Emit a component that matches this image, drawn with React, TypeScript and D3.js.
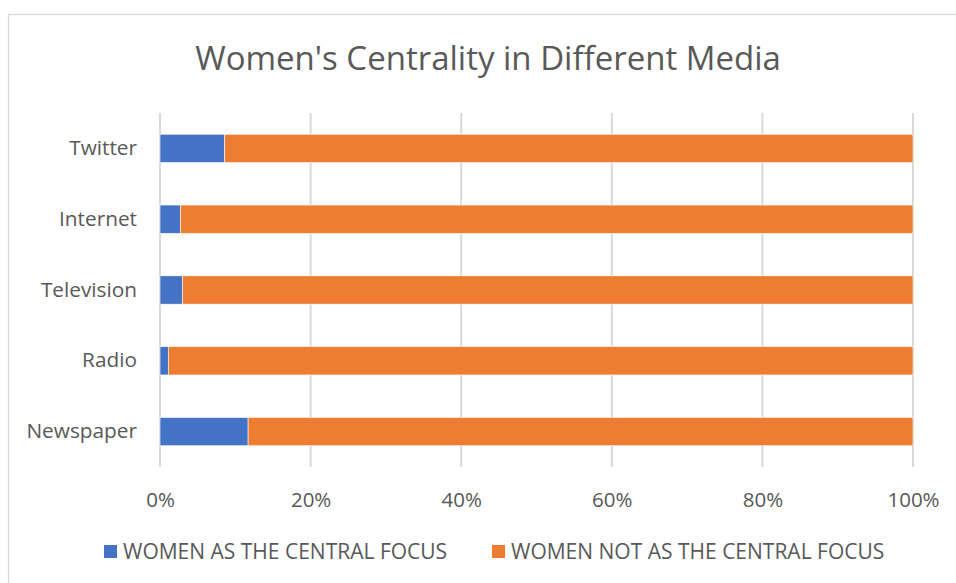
import React, { useEffect, useRef } from 'react';
import * as d3 from 'd3';

const categories = ['Newspaper', 'Radio', 'Television', 'Internet', 'Twitter'];
const centralFocus = [0.117, 0.011, 0.030, 0.027, 0.086];
const notCentralFocus = [0.883, 0.989, 0.970, 0.973, 0.914];
const seriesNames = ['WOMEN AS THE CENTRAL FOCUS', 'WOMEN NOT AS THE CENTRAL FOCUS'];
const seriesColors = ['#4472C4', '#ED7D31'];
const tickValues = [0, 0.2, 0.4, 0.6, 0.8, 1];

const App = () => {
    const svgRef = useRef<SVGSVGElement>(null);

    useEffect(() => {
        const svg = d3.select(svgRef.current);
        svg.selectAll('*').remove();

        const width = 956;
        const height = 583;
        const margin = { top: 113, right: 43, bottom: 116, left: 160 };
        const font = "'Open Sans', sans-serif";
        const textColor = '#595959';

        // chart frame
        svg.append('rect')
            .attr('x', 8.5)
            .attr('y', 14.5)
            .attr('width', 1000)
            .attr('height', 1000)
            .attr('fill', '#fff')
            .attr('stroke', '#d9d9d9')
            .attr('stroke-width', 1.2);

        svg.append('text')
            .attr('x', 488)
            .attr('y', 70)
            .attr('text-anchor', 'middle')
            .attr('font-family', font)
            .attr('font-size', 33)
            .attr('fill', textColor)
            .text("Women's Centrality in Different Media");

        const rows = categories.map((c, i) => ({
            category: c,
            central: centralFocus[i],
            notCentral: notCentralFocus[i],
        }));

        const xScale = d3.scaleLinear()
            .domain([0, 1])
            .range([margin.left, width - margin.right]);

        const yScale = d3.scaleBand()
            .domain(categories.slice().reverse())
            .range([margin.top, height - margin.bottom])
            .paddingInner(0.6)
            .paddingOuter(0.3);

        // gridlines
        svg.append('g')
            .selectAll('line')
            .data(tickValues)
            .enter()
            .append('line')
            .attr('x1', d => xScale(d))
            .attr('x2', d => xScale(d))
            .attr('y1', margin.top)
            .attr('y2', height - margin.bottom)
            .attr('stroke', '#d9d9d9')
            .attr('stroke-width', 2);

        const stack = d3.stack<any>().keys(['central', 'notCentral']);
        const layers = stack(rows);

        svg.append('g')
            .selectAll('g')
            .data(layers)
            .enter()
            .append('g')
            .attr('fill', (d, i) => seriesColors[i])
            .selectAll('rect')
            .data(d => d)
            .enter()
            .append('rect')
            .attr('x', d => xScale(d[0]))
            .attr('y', d => yScale(d.data.category)!)
            .attr('width', d => xScale(d[1]) - xScale(d[0]))
            .attr('height', yScale.bandwidth())
            .attr('stroke', '#fff')
            .attr('stroke-width', 0.6);

        // X-axis
        const xAxis = svg.append('g')
            .attr('transform', `translate(0,${height - margin.bottom})`)
            .call(d3.axisBottom(xScale).tickValues(tickValues).tickFormat(d3.format('.0%')).tickSize(0).tickPadding(25));
        xAxis.select('.domain').remove();
        xAxis.selectAll('text')
            .attr('font-family', font)
            .attr('font-size', 20.5)
            .attr('fill', textColor);

        // Y-axis
        const yAxis = svg.append('g')
            .attr('transform', `translate(${margin.left},0)`)
            .call(d3.axisLeft(yScale).tickSize(0).tickPadding(23));
        yAxis.select('.domain').remove();
        yAxis.selectAll('text')
            .attr('font-family', font)
            .attr('font-size', 20.8)
            .attr('fill', textColor);

        // legend
        const legendX = [104, 492];
        const legend = svg.append('g')
            .selectAll('g')
            .data(seriesNames)
            .enter()
            .append('g')
            .attr('transform', (d, i) => `translate(${legendX[i]},545)`);
        legend.append('rect')
            .attr('width', 13)
            .attr('height', 13)
            .attr('fill', (d, i) => seriesColors[i]);
        legend.append('text')
            .attr('x', 19)
            .attr('y', 13.5)
            .attr('font-family', font)
            .attr('font-size', 21)
            .attr('fill', textColor)
            .text(d => d);
    }, []);

    return (
        <svg ref={svgRef} width={956} height={583} style={{ position: 'absolute', left: 0, top: 0 }}></svg>
    );
};

export default App;
